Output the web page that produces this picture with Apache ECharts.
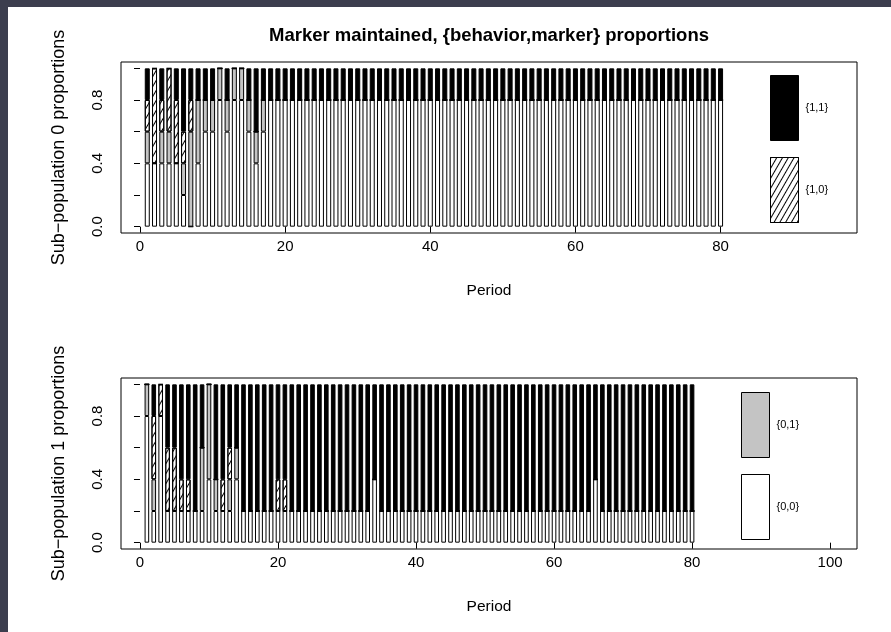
<!DOCTYPE html>
<html>
<head>
<meta charset="utf-8">
<script src="https://cdn.jsdelivr.net/npm/echarts@6/dist/echarts.min.js"></script>
<style>
  html, body { margin: 0; padding: 0; background: #3c3e4e; }
  #paper { position: absolute; left: 8px; top: 7px; width: 883px; height: 625px; background: #fff; }
  #chart { position: absolute; left: 0; top: 0; width: 891px; height: 632px; }
</style>
</head>
<body>
<div id="paper"></div>
<div id="chart"></div>
<script>
// periods 1..80
const periods = [
  1, 2, 3, 4, 5, 6, 7, 8, 9, 10, 11, 12, 13, 14, 15, 16, 17, 18, 19, 20,
  21, 22, 23, 24, 25, 26, 27, 28, 29, 30, 31, 32, 33, 34, 35, 36, 37, 38, 39, 40,
  41, 42, 43, 44, 45, 46, 47, 48, 49, 50, 51, 52, 53, 54, 55, 56, 57, 58, 59, 60,
  61, 62, 63, 64, 65, 66, 67, 68, 69, 70, 71, 72, 73, 74, 75, 76, 77, 78, 79, 80
];

// Sub-population 0, proportion of each {behavior,marker} type
const pop0_00 = [
  0.4, 0.4, 0.4, 0.4, 0.4, 0.2, 0, 0.4, 0.6, 0.6, 0.8, 0.6, 0.8, 0.8, 0.6, 0.4, 0.6, 0.8, 0.8, 0.8,
  0.8, 0.8, 0.8, 0.8, 0.8, 0.8, 0.8, 0.8, 0.8, 0.8, 0.8, 0.8, 0.8, 0.8, 0.8, 0.8, 0.8, 0.8, 0.8, 0.8,
  0.8, 0.8, 0.8, 0.8, 0.8, 0.8, 0.8, 0.8, 0.8, 0.8, 0.8, 0.8, 0.8, 0.8, 0.8, 0.8, 0.8, 0.8, 0.8, 0.8,
  0.8, 0.8, 0.8, 0.8, 0.8, 0.8, 0.8, 0.8, 0.8, 0.8, 0.8, 0.8, 0.8, 0.8, 0.8, 0.8, 0.8, 0.8, 0.8, 0.8
];
const pop0_01 = [
  0.2, 0, 0.2, 0.2, 0, 0.2, 0.6, 0.4, 0.2, 0.2, 0.2, 0.2, 0.2, 0.2, 0.2, 0.2, 0.2, 0, 0, 0,
  0, 0, 0, 0, 0, 0, 0, 0, 0, 0, 0, 0, 0, 0, 0, 0, 0, 0, 0, 0,
  0, 0, 0, 0, 0, 0, 0, 0, 0, 0, 0, 0, 0, 0, 0, 0, 0, 0, 0, 0,
  0, 0, 0, 0, 0, 0, 0, 0, 0, 0, 0, 0, 0, 0, 0, 0, 0, 0, 0, 0
];
const pop0_10 = [
  0.2, 0.6, 0.2, 0.4, 0.4, 0.2, 0.2, 0, 0, 0, 0, 0, 0, 0, 0, 0, 0, 0, 0, 0,
  0, 0, 0, 0, 0, 0, 0, 0, 0, 0, 0, 0, 0, 0, 0, 0, 0, 0, 0, 0,
  0, 0, 0, 0, 0, 0, 0, 0, 0, 0, 0, 0, 0, 0, 0, 0, 0, 0, 0, 0,
  0, 0, 0, 0, 0, 0, 0, 0, 0, 0, 0, 0, 0, 0, 0, 0, 0, 0, 0, 0
];
const pop0_11 = [
  0.2, 0, 0.2, 0, 0.2, 0.4, 0.2, 0.2, 0.2, 0.2, 0, 0.2, 0, 0, 0.2, 0.4, 0.2, 0.2, 0.2, 0.2,
  0.2, 0.2, 0.2, 0.2, 0.2, 0.2, 0.2, 0.2, 0.2, 0.2, 0.2, 0.2, 0.2, 0.2, 0.2, 0.2, 0.2, 0.2, 0.2, 0.2,
  0.2, 0.2, 0.2, 0.2, 0.2, 0.2, 0.2, 0.2, 0.2, 0.2, 0.2, 0.2, 0.2, 0.2, 0.2, 0.2, 0.2, 0.2, 0.2, 0.2,
  0.2, 0.2, 0.2, 0.2, 0.2, 0.2, 0.2, 0.2, 0.2, 0.2, 0.2, 0.2, 0.2, 0.2, 0.2, 0.2, 0.2, 0.2, 0.2, 0.2
];

// Sub-population 1
const pop1_00 = [
  0.8, 0.2, 0.8, 0.2, 0.2, 0.2, 0.2, 0.2, 0.2, 0.4, 0.2, 0.2, 0.2, 0.4, 0.2, 0.2, 0.2, 0.2, 0.2, 0.2,
  0.2, 0.2, 0.2, 0.2, 0.2, 0.2, 0.2, 0.2, 0.2, 0.2, 0.2, 0.2, 0.2, 0.4, 0.2, 0.2, 0.2, 0.2, 0.2, 0.2,
  0.2, 0.2, 0.2, 0.2, 0.2, 0.2, 0.2, 0.2, 0.2, 0.2, 0.2, 0.2, 0.2, 0.2, 0.2, 0.2, 0.2, 0.2, 0.2, 0.2,
  0.2, 0.2, 0.2, 0.2, 0.2, 0.4, 0.2, 0.2, 0.2, 0.2, 0.2, 0.2, 0.2, 0.2, 0.2, 0.2, 0.2, 0.2, 0.2, 0.2
];
const pop1_01 = [
  0.2, 0.2, 0, 0, 0, 0, 0, 0, 0.4, 0.6, 0.2, 0, 0.2, 0.2, 0, 0, 0, 0, 0, 0,
  0, 0, 0, 0, 0, 0, 0, 0, 0, 0, 0, 0, 0, 0, 0, 0, 0, 0, 0, 0,
  0, 0, 0, 0, 0, 0, 0, 0, 0, 0, 0, 0, 0, 0, 0, 0, 0, 0, 0, 0,
  0, 0, 0, 0, 0, 0, 0, 0, 0, 0, 0, 0, 0, 0, 0, 0, 0, 0, 0, 0
];
const pop1_10 = [
  0, 0.4, 0.2, 0.4, 0.4, 0.2, 0.2, 0, 0, 0, 0, 0.2, 0.2, 0, 0, 0, 0, 0, 0, 0.2,
  0.2, 0, 0, 0, 0, 0, 0, 0, 0, 0, 0, 0, 0, 0, 0, 0, 0, 0, 0, 0,
  0, 0, 0, 0, 0, 0, 0, 0, 0, 0, 0, 0, 0, 0, 0, 0, 0, 0, 0, 0,
  0, 0, 0, 0, 0, 0, 0, 0, 0, 0, 0, 0, 0, 0, 0, 0, 0, 0, 0, 0
];
const pop1_11 = [
  0, 0.2, 0, 0.4, 0.4, 0.6, 0.6, 0.8, 0.4, 0, 0.6, 0.6, 0.4, 0.4, 0.8, 0.8, 0.8, 0.8, 0.8, 0.6,
  0.6, 0.8, 0.8, 0.8, 0.8, 0.8, 0.8, 0.8, 0.8, 0.8, 0.8, 0.8, 0.8, 0.6, 0.8, 0.8, 0.8, 0.8, 0.8, 0.8,
  0.8, 0.8, 0.8, 0.8, 0.8, 0.8, 0.8, 0.8, 0.8, 0.8, 0.8, 0.8, 0.8, 0.8, 0.8, 0.8, 0.8, 0.8, 0.8, 0.8,
  0.8, 0.8, 0.8, 0.8, 0.8, 0.6, 0.8, 0.8, 0.8, 0.8, 0.8, 0.8, 0.8, 0.8, 0.8, 0.8, 0.8, 0.8, 0.8, 0.8
];

const xTicks0 = [0, 20, 40, 60, 80];
const xTicks1 = [0, 20, 40, 60, 80, 100];
const yTicks = [0, 0.2, 0.4, 0.6, 0.8, 1.0];
const yLabels = [0, 0.4, 0.8];

const font = '"Liberation Sans", Arial, Helvetica, sans-serif';

var chart = echarts.init(document.getElementById('chart'));

const styles = {
  '{0,0}': { color: '#fff', borderColor: '#000', borderWidth: 1 },
  '{0,1}': { color: '#c4c4c4', borderColor: '#000', borderWidth: 1 },
  '{1,0}': {
    color: '#fff', borderColor: '#000', borderWidth: 1,
    decal: {
      symbol: 'rect', symbolSize: 1, color: '#000',
      dashArrayX: [1, 0], dashArrayY: [1, 4], rotation: -Math.PI / 3
    }
  },
  '{1,1}': { color: '#000', borderColor: '#000', borderWidth: 1 }
};

// data as [value, period] so the stacked dimension is the proportion
function pairs(vals) {
  return vals.map((v, i) => [v, periods[i]]);
}

function barSeries(name, vals, gi) {
  return {
    type: 'bar',
    name: name,
    xAxisIndex: gi,
    yAxisIndex: gi,
    stack: 'pop' + gi,
    barWidth: gi === 0 ? 5 : 4.6,
    encode: { x: 1, y: 0 },
    data: pairs(vals),
    itemStyle: styles[name],
    emphasis: { disabled: true },
    silent: true
  };
}

function xAxis(gi, min, max, ticks) {
  return {
    type: 'value', gridIndex: gi, min: min, max: max,
    axisLine: { show: false },
    splitLine: { show: false },
    axisTick: { show: true, customValues: ticks, length: 6, lineStyle: { color: '#000' } },
    axisLabel: { customValues: ticks, margin: 6, fontSize: 15, color: '#000', fontFamily: font },
    name: 'Period', nameLocation: 'middle', nameGap: 50,
    nameTextStyle: { fontSize: 15.5, color: '#000', fontFamily: font }
  };
}

function yAxis(gi, name) {
  return {
    type: 'value', gridIndex: gi, min: -0.04, max: 1.04,
    axisLine: { show: false },
    splitLine: { show: false },
    axisTick: { show: true, customValues: yTicks, length: 6, lineStyle: { color: '#000' } },
    axisLabel: {
      customValues: yLabels, rotate: 90, margin: 16, fontSize: 15, color: '#000', fontFamily: font,
      formatter: (v) => v.toFixed(1)
    },
    name: name, nameLocation: 'middle', nameGap: 53,
    nameTextStyle: { fontSize: 18, color: '#000', fontFamily: font }
  };
}

const legendBase = {
  orient: 'vertical', itemWidth: 28, itemHeight: 65, itemGap: 16, padding: 0,
  icon: 'rect', selectedMode: false,
  itemStyle: { borderColor: '#000', borderWidth: 1 },
  textStyle: { fontSize: 11, color: '#000', fontFamily: font, padding: [0, 0, 0, 2] }
};

var option = {
  animation: false,
  title: {
    text: 'Marker maintained, {behavior,marker} proportions',
    left: 484, top: 21, textAlign: 'center',
    textStyle: { fontSize: 18.5, fontWeight: 'bold', color: '#000', fontFamily: font }
  },
  legend: [
    Object.assign({}, legendBase, { data: ['{1,1}', '{1,0}'], left: 770, top: 75 }),
    Object.assign({}, legendBase, { data: ['{0,1}', '{0,0}'], left: 741, top: 392 })
  ],
  grid: [
    { left: 121, top: 62, width: 736, height: 171, show: true, borderColor: '#000', borderWidth: 1 },
    { left: 121, top: 378, width: 736, height: 171, show: true, borderColor: '#000', borderWidth: 1 }
  ],
  xAxis: [
    xAxis(0, -2.62, 98.8, xTicks0),
    xAxis(1, -2.75, 103.9, xTicks1)
  ],
  yAxis: [
    yAxis(0, 'Sub\u2212population 0 proportions'),
    yAxis(1, 'Sub\u2212population 1 proportions')
  ],
  series: [
    barSeries('{0,0}', pop0_00, 0),
    barSeries('{0,1}', pop0_01, 0),
    barSeries('{1,0}', pop0_10, 0),
    barSeries('{1,1}', pop0_11, 0),
    barSeries('{0,0}', pop1_00, 1),
    barSeries('{0,1}', pop1_01, 1),
    barSeries('{1,0}', pop1_10, 1),
    barSeries('{1,1}', pop1_11, 1)
  ]
};

chart.setOption(option);
</script>
</body>
</html>
